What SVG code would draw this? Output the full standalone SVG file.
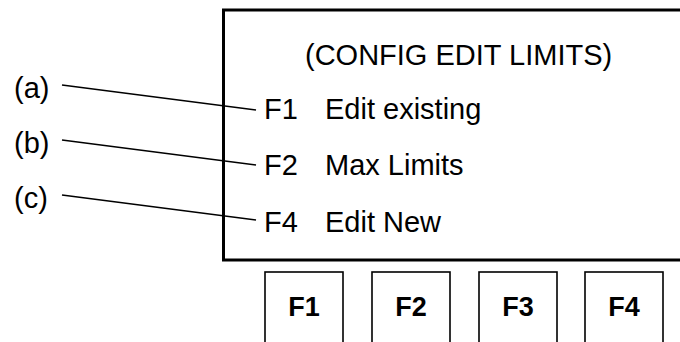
<svg xmlns="http://www.w3.org/2000/svg" width="680" height="342" viewBox="0 0 680 342">
<style>
text{font-family:"Liberation Sans",Arial,sans-serif;fill:#000}
.t{font-size:29px}
.k{font-size:27px;font-weight:bold;text-anchor:middle}
.btn{fill:#fff;stroke:#000;stroke-width:1.6}
.ld{stroke:#000;stroke-width:1.6;fill:none}
</style>
<rect width="680" height="342" fill="#fff"/>
<g id="screen">
<rect x="223.5" y="10" width="470" height="250" fill="#fff" stroke="#000" stroke-width="3"/>
<text class="t" x="305" y="65">(CONFIG EDIT LIMITS)</text>
<text class="t" x="264" y="119">F1</text>
<text class="t" x="325" y="119">Edit existing</text>
<text class="t" x="264" y="175">F2</text>
<text class="t" x="325" y="175">Max Limits</text>
<text class="t" x="264" y="232">F4</text>
<text class="t" x="325" y="232">Edit New</text>
</g>
<g id="labels">
<text class="t" x="14" y="98">(a)</text>
<text class="t" x="14" y="153">(b)</text>
<text class="t" x="14" y="208">(c)</text>
</g>
<g id="connectors">
<line class="ld" x1="62" y1="85" x2="256" y2="110"/>
<line class="ld" x1="62" y1="140" x2="256" y2="165"/>
<line class="ld" x1="62" y1="195" x2="256" y2="220"/>
</g>
<g id="key-F1"><rect class="btn" x="265" y="272" width="78" height="80"/><text class="k" x="304" y="316">F1</text></g>
<g id="key-F2"><rect class="btn" x="372" y="272" width="78" height="80"/><text class="k" x="411" y="316">F2</text></g>
<g id="key-F3"><rect class="btn" x="479" y="272" width="78" height="80"/><text class="k" x="518" y="316">F3</text></g>
<g id="key-F4"><rect class="btn" x="585" y="272" width="78" height="80"/><text class="k" x="624" y="316">F4</text></g>
</svg>
